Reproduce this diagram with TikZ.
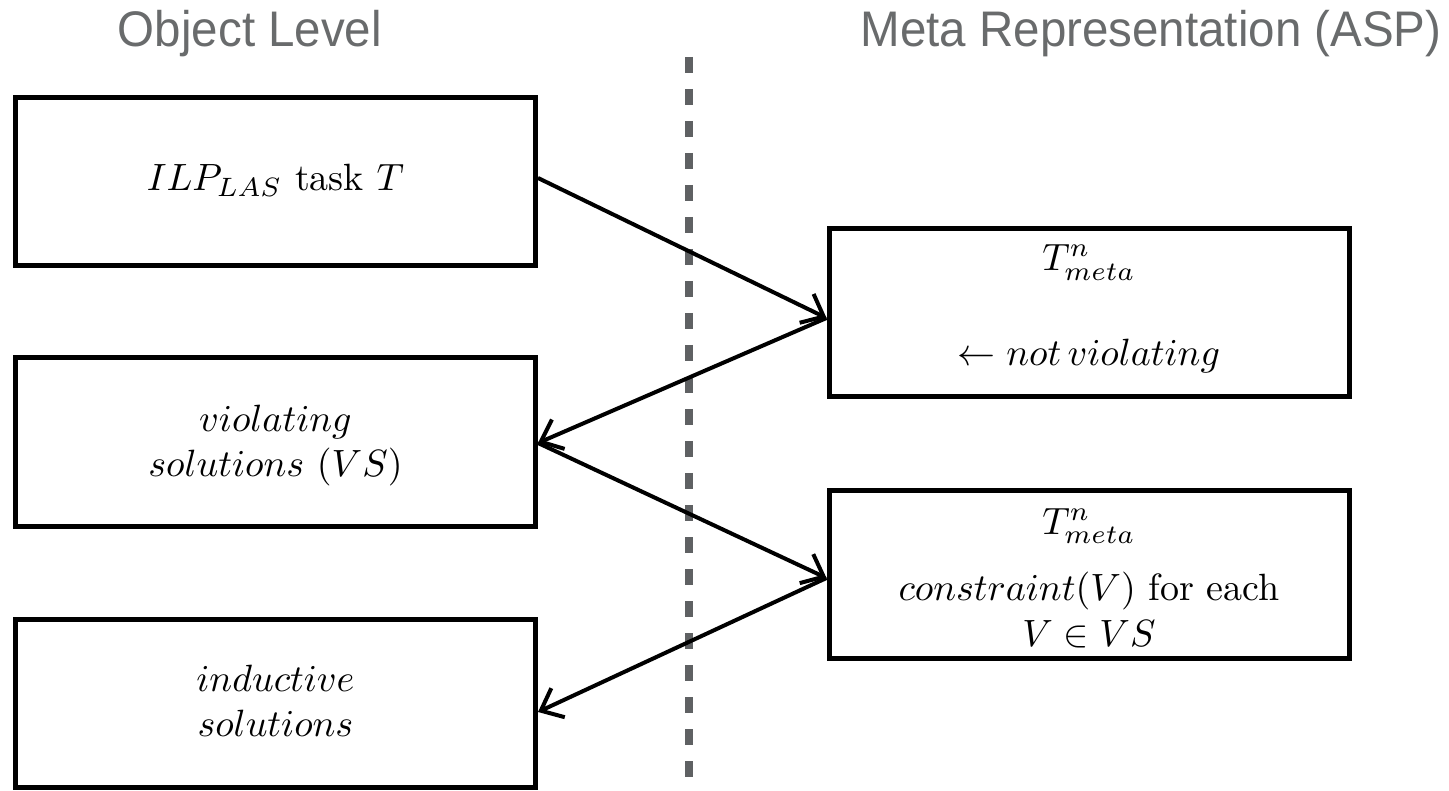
\documentclass[tikz,border=0pt]{standalone}
\usepackage{fontspec}
\newfontfamily\titlefont{Liberation Sans}
\usetikzlibrary{arrows.meta}
\definecolor{titlegray}{RGB}{105,107,108}
\definecolor{dashgray}{RGB}{95,97,99}
\newcommand{\bxtext}[1]{\scalebox{3.8}{\begin{tabular}{@{}c@{}}#1\end{tabular}}}
\newcommand{\ttltext}[1]{\scalebox{0.95}[1]{#1}}
\tikzset{
  box/.style={draw, line width=5pt, minimum width=520pt, minimum height=168pt, inner sep=0pt},
  boxtext/.style={inner sep=0pt, align=center},
  title/.style={font=\titlefont\fontsize{50}{58}\selectfont, text=titlegray, anchor=base, inner sep=0pt},
  conn/.style={line width=4pt, -{Straight Barb[length=19pt,width=32pt,line width=4pt]}},
  sep/.style={line width=8pt, dashgray, dash pattern=on 16pt off 16pt}
}
\begin{document}
\begin{tikzpicture}[x=1pt,y=-1pt]
\useasboundingbox (0,0) rectangle (1449,791);
\node[title] (t1) at (250,47) {\ttltext{Object Level}};
\node[title] (t2) at (1151,47) {\ttltext{Meta Representation (ASP)}};
\coordinate (s1) at (689,57);
\coordinate (s2) at (689,778);
\draw[sep] (s1) -- (s2);
\node[box] (b1) at (275.5,181.5) {};
\node[box] (b2) at (275.5,442) {};
\node[box] (b3) at (275.5,703.5) {};
\node[box] (b4) at (1089,313) {};
\node[box] (b5) at (1089,574) {};
\node[boxtext] (l1) at (275.5,181.5) {\bxtext{$ILP_{LAS}$ task $T$}};
\node[boxtext] (l2) at (275.5,445) {\bxtext{$violating$\\$solutions\ (VS)$}};
\node[boxtext] (l3) at (275.5,705) {\bxtext{$inductive$\\$solutions$}};
\node[boxtext] (l4) at (1089,309) {\bxtext{$T^{n}_{meta}$\\[13pt]$\leftarrow not\,violating$}};
\node[boxtext] (l5) at (1089,581) {\bxtext{$T^{n}_{meta}$\\[5.5pt]$constraint(V)$ for each\\$V\in VS$}};
\draw[conn] ([yshift=3.5pt]b1.east) -- ([yshift=-5pt]b4.west);
\draw[conn] ([yshift=-5pt]b4.west) -- ([yshift=-1pt]b2.east);
\draw[conn] ([yshift=-1pt]b2.east) -- ([yshift=-4pt]b5.west);
\draw[conn] ([yshift=-4pt]b5.west) -- ([yshift=-8.5pt]b3.east);
\end{tikzpicture}
\end{document}
